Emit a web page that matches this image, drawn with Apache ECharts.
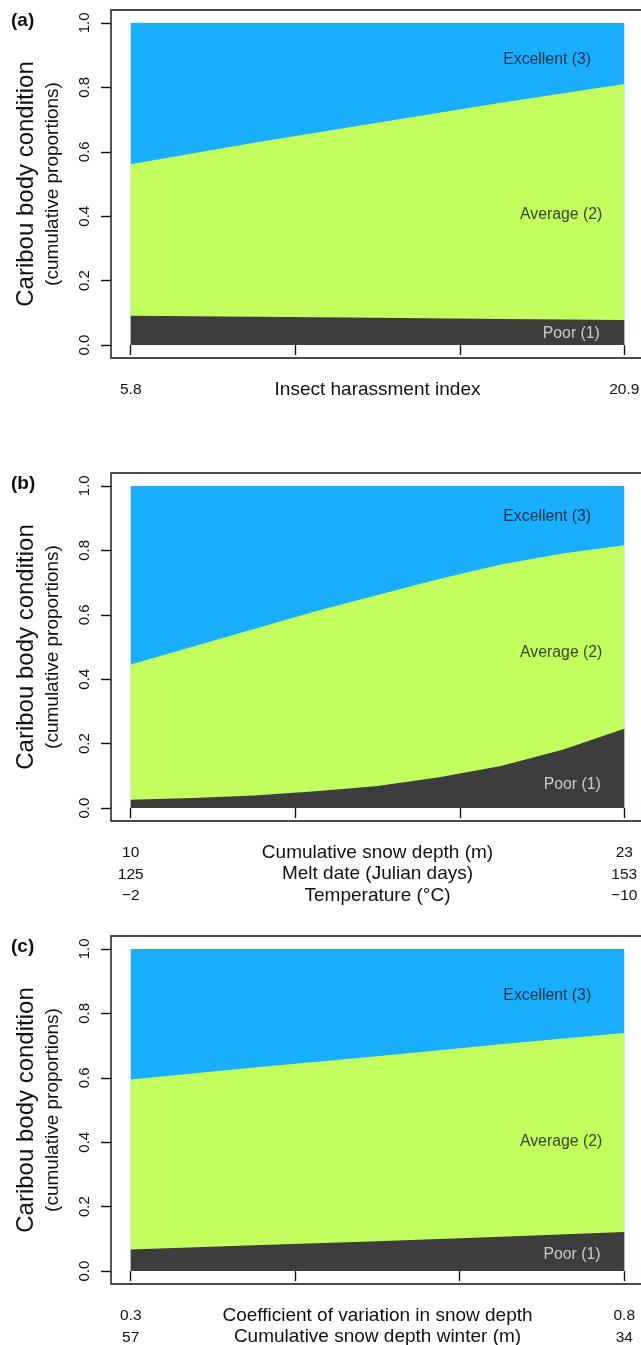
<!DOCTYPE html>
<html><head><meta charset="utf-8">
<script src="https://cdn.jsdelivr.net/npm/echarts@6/dist/echarts.min.js"></script>
<style>html,body{margin:0;padding:0;background:#fff}#c{width:641px;height:1345px}</style>
</head><body><div id="c"></div><script>
const FONT = '"Liberation Sans", Arial, Helvetica, sans-serif';
const BLUE = '#1aaeff', GREEN = '#c2ff5e', DARK = '#3d3d3d';

// ---- Panel (a): insect harassment index ----
const aX = [5.8, 9.575, 13.35, 17.125, 20.9];
const aExcellentTop = [1, 1, 1, 1, 1];
const aAverageTop = [0.561, 0.628, 0.690, 0.752, 0.810];
const aPoorTop = [0.091, 0.088, 0.085, 0.081, 0.078];
const aTicks = [5.8, 10.833, 15.867, 20.9];
const aLabelValues = [5.8, 20.9];
const aLabelRows = [['5.8', '20.9']];
const aNames = ['Insect harassment index'];

// ---- Panel (b): cumulative snow depth / melt date / temperature ----
const bX = [10, 11.625, 13.25, 14.875, 16.5, 18.125, 19.75, 21.375, 23];
const bExcellentTop = [1, 1, 1, 1, 1, 1, 1, 1, 1];
const bAverageTop = [0.446, 0.501, 0.556, 0.611, 0.661, 0.711, 0.756, 0.790, 0.816];
const bPoorTop = [0.026, 0.031, 0.039, 0.052, 0.069, 0.096, 0.131, 0.181, 0.246];
const bTicks = [10, 14.333, 18.667, 23];
const bLabelValues = [10, 23];
const bLabelRows = [['10', '23'], ['125', '153'], ['\u22122', '\u221210']];
const bNames = ['Cumulative snow depth (m)', 'Melt date (Julian days)', 'Temperature (\u00b0C)'];

// ---- Panel (c): CV of snow depth / cumulative snow depth winter ----
const cX = [0.3, 0.425, 0.55, 0.675, 0.8];
const cExcellentTop = [1, 1, 1, 1, 1];
const cAverageTop = [0.595, 0.632, 0.667, 0.704, 0.739];
const cPoorTop = [0.067, 0.080, 0.093, 0.107, 0.121];
const cTicks = [0.3, 0.4667, 0.6333, 0.8];
const cLabelValues = [0.3, 0.8];
const cLabelRows = [['0.3', '0.8'], ['57', '34']];
const cNames = ['Coefficient of variation in snow depth', 'Cumulative snow depth winter (m)'];

const yTicks = [0, 0.2, 0.4, 0.6, 0.8, 1.0];
const categoryNames = ['Excellent (3)', 'Average (2)', 'Poor (1)'];
const categoryColors = ['#111', '#111', '#ececec'];
// label anchor points (data coords) per panel
const aLabelPos = [[18.54, 0.885], [18.97, 0.404], [19.28, 0.037]];
const bLabelPos = [[20.97, 0.906], [21.34, 0.482], [21.63, 0.074]];
const cLabelPos = [[0.722, 0.855], [0.736, 0.402], [0.747, 0.052]];

const panels = [
  {tag: '(a)', top: 10, x: aX, ex: aExcellentTop, av: aAverageTop, po: aPoorTop, ticks: aTicks, lv: aLabelValues, rows: aLabelRows, names: aNames, lp: aLabelPos},
  {tag: '(b)', top: 473, x: bX, ex: bExcellentTop, av: bAverageTop, po: bPoorTop, ticks: bTicks, lv: bLabelValues, rows: bLabelRows, names: bNames, lp: bLabelPos},
  {tag: '(c)', top: 936, x: cX, ex: cExcellentTop, av: cAverageTop, po: cPoorTop, ticks: cTicks, lv: cLabelValues, rows: cLabelRows, names: cNames, lp: cLabelPos}
];

const grids = [], xAxes = [], yAxes = [], series = [], titles = [];
panels.forEach((p, i) => {
  const x0 = p.x[0], x1 = p.x[p.x.length - 1], pad = (x1 - x0) * 0.04;
  grids.push({left: 111, top: p.top, width: 533, height: 348, show: true,
    borderColor: '#111', borderWidth: 1.4, backgroundColor: 'transparent',
    containLabel: false, outerBoundsMode: 'none'});
  titles.push({text: p.tag, left: 11, top: p.top + 1.5, padding: 0,
    textStyle: {fontFamily: FONT, fontSize: 19, fontWeight: 'bold', color: '#111'}});
  xAxes.push({type: 'value', gridIndex: i, min: x0 - pad, max: x1 + pad,
    axisLine: {show: false}, splitLine: {show: false},
    axisTick: {show: true, length: 10, customValues: p.ticks, lineStyle: {color: '#111', width: 1.4}},
    axisLabel: {show: true, customValues: p.lv, margin: 21, fontFamily: FONT, fontSize: 15.5,
      lineHeight: 21.5, color: '#111', align: 'center', verticalAlign: 'top',
      formatter: v => {
        let k = 0, best = Infinity;
        p.lv.forEach((lv, j) => { const d = Math.abs(lv - v); if (d < best) { best = d; k = j; } });
        return p.rows.map(r => r[k]).join('\n');
      }},
    name: p.names.join('\n'), nameLocation: 'middle', nameGap: 21, nameMoveOverlap: false,
    nameTextStyle: {fontFamily: FONT, fontSize: 19, lineHeight: 21.5, color: '#111', verticalAlign: 'top'}
  });
  yAxes.push({type: 'value', gridIndex: i, min: -0.04, max: 1.04,
    axisLine: {show: false}, splitLine: {show: false},
    axisTick: {show: true, length: 10, customValues: yTicks, lineStyle: {color: '#111', width: 1.4}},
    axisLabel: {show: true, customValues: yTicks, rotate: 90, margin: 19, fontFamily: FONT,
      fontSize: 15, color: '#111', formatter: v => v.toFixed(1)},
    name: '{a|Caribou body condition}\n{b|(cumulative proportions)}',
    nameLocation: 'middle', nameRotate: 90, nameGap: 46, nameMoveOverlap: false,
    nameTextStyle: {fontFamily: FONT, color: '#111', rich: {
      a: {fontFamily: FONT, fontSize: 24, lineHeight: 30, color: '#111'},
      b: {fontFamily: FONT, fontSize: 19, lineHeight: 24, color: '#111'}}}
  });
  const mk = (ys, color) => ({type: 'line', xAxisIndex: i, yAxisIndex: i, silent: true,
    data: p.x.map((xv, j) => [xv, ys[j]]), symbol: 'none', showSymbol: false,
    smooth: false,
    lineStyle: {width: 0, opacity: 0}, areaStyle: {color: color, opacity: 1, origin: 0}});
  series.push(mk(p.ex, BLUE), mk(p.av, GREEN), mk(p.po, DARK));
  series.push({type: 'scatter', xAxisIndex: i, yAxisIndex: i, silent: true, z: 5,
    symbol: 'circle', symbolSize: 2, itemStyle: {color: 'rgba(0,0,0,0)'},
    data: p.lp.map((pt, j) => ({value: pt, name: categoryNames[j],
      label: {color: categoryColors[j]}})),
    label: {show: true, position: 'inside', fontFamily: FONT, fontSize: 15.8,
      formatter: d => d.name},
    labelLayout: {hideOverlap: false}
  });
});

const chart = echarts.init(document.getElementById('c'), null, {renderer: 'canvas'});
chart.setOption({animation: false, backgroundColor: '#fff', title: titles,
  grid: grids, xAxis: xAxes, yAxis: yAxes, series: series});
</script></body></html>
